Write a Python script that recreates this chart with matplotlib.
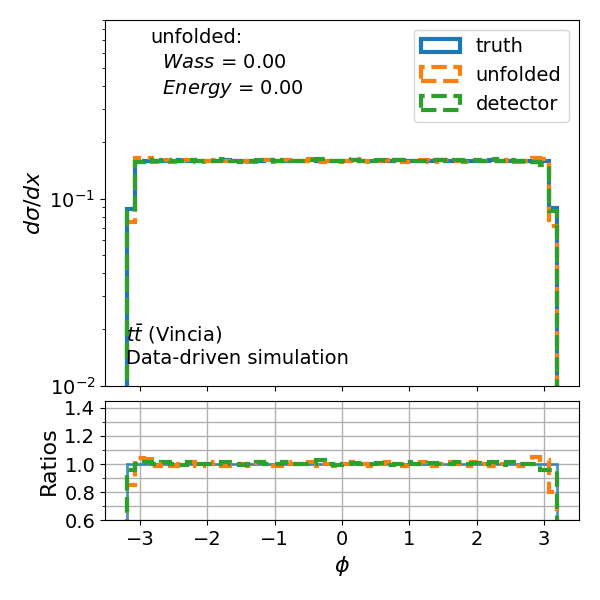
import numpy as np
import matplotlib
matplotlib.use('Agg')
import matplotlib.pyplot as plt
from matplotlib.ticker import MultipleLocator

# bin edges in phi
bin_lo = -3.2
bin_hi = 3.2
n_bins = 50

# normalised distributions
truth = [0.088, 0.157, 0.158, 0.159, 0.158, 0.159, 0.160, 0.158, 0.159, 0.159,
         0.158, 0.160, 0.159, 0.158, 0.159, 0.159, 0.160, 0.158, 0.159, 0.158,
         0.159, 0.160, 0.158, 0.159, 0.159, 0.158, 0.160, 0.159, 0.158, 0.159,
         0.159, 0.160, 0.158, 0.159, 0.158, 0.159, 0.160, 0.159, 0.158, 0.159,
         0.159, 0.158, 0.160, 0.159, 0.158, 0.159, 0.159, 0.157, 0.158, 0.089]
unfolded = [0.075, 0.164, 0.164, 0.157, 0.160, 0.157, 0.160, 0.160, 0.157, 0.159,
            0.160, 0.158, 0.159, 0.158, 0.157, 0.161, 0.160, 0.156, 0.161, 0.158,
            0.159, 0.162, 0.156, 0.159, 0.157, 0.158, 0.162, 0.159, 0.156, 0.159,
            0.161, 0.160, 0.156, 0.159, 0.160, 0.157, 0.160, 0.161, 0.158, 0.157,
            0.161, 0.158, 0.158, 0.159, 0.160, 0.157, 0.159, 0.165, 0.163, 0.071]
detector = [0.0845, 0.157, 0.160, 0.159, 0.160, 0.159, 0.159, 0.160, 0.159, 0.159,
            0.158, 0.162, 0.159, 0.157, 0.159, 0.161, 0.160, 0.158, 0.161, 0.158,
            0.159, 0.160, 0.162, 0.159, 0.158, 0.158, 0.161, 0.159, 0.158, 0.160,
            0.158, 0.160, 0.160, 0.159, 0.158, 0.160, 0.160, 0.159, 0.160, 0.159,
            0.160, 0.158, 0.162, 0.158, 0.160, 0.159, 0.159, 0.157, 0.151, 0.0854]

edges = np.linspace(bin_lo, bin_hi, n_bins + 1)
centers = 0.5 * (edges[1:] + edges[:-1])
truth = np.array(truth)
unfolded = np.array(unfolded)
detector = np.array(detector)

fig = plt.figure(figsize=(6, 6), dpi=100)
ax0 = fig.add_axes([0.175, 0.357, 0.79, 0.61])
ax1 = fig.add_axes([0.175, 0.133, 0.79, 0.199], sharex=ax0)

# upper panel
ax0.hist(centers, bins=edges, weights=truth, histtype='step', lw=3,
         color='#1f77b4', label='truth')
ax0.hist(centers, bins=edges, weights=unfolded, histtype='step', lw=3,
         ls='--', color='#ff7f0e', label='unfolded')
ax0.hist(centers, bins=edges, weights=detector, histtype='step', lw=3,
         ls='--', color='#2ca02c', label='detector')
ax0.set_yscale('log')
ax0.set_ylim(0.01, 0.9)
ax0.set_ylabel(r'$d\sigma/dx$', fontsize=16)
ax0.tick_params(labelsize=14)
ax0.tick_params(axis='x', labelbottom=False)
ax0.legend(loc='upper right', fontsize=14)
ax0.text(0.095, 0.978, 'unfolded:\n  $Wass$ = 0.00\n  $Energy$ = 0.00',
         transform=ax0.transAxes, fontsize=14, va='top', ha='left',
         linespacing=1.4)
ax0.text(0.045, 0.05, r'$t\bar{t}$ (Vincia)' + '\nData-driven simulation',
         transform=ax0.transAxes, fontsize=14, va='bottom', ha='left')

# ratio panel
ax1.hist(centers, bins=edges, weights=truth / truth, histtype='step', lw=2,
         color='#1f77b4', alpha=0.8)
ax1.hist(centers, bins=edges, weights=unfolded / truth, histtype='step', lw=3,
         ls='--', color='#ff7f0e')
ax1.hist(centers, bins=edges, weights=detector / truth, histtype='step', lw=3,
         ls='--', color='#2ca02c')
ax1.set_ylim(0.6, 1.45)
ax1.yaxis.set_major_locator(MultipleLocator(0.2))
ax1.yaxis.set_minor_locator(MultipleLocator(0.1))
ax1.grid(True, which='both', color='#b0b0b0', lw=1)
ax1.set_ylabel('Ratios', fontsize=16)
ax1.set_xlabel(r'$\phi$', fontsize=16)
ax1.tick_params(labelsize=14)
ax1.set_xlim(-3.52, 3.52)

fig.savefig('out.png', dpi=100)
